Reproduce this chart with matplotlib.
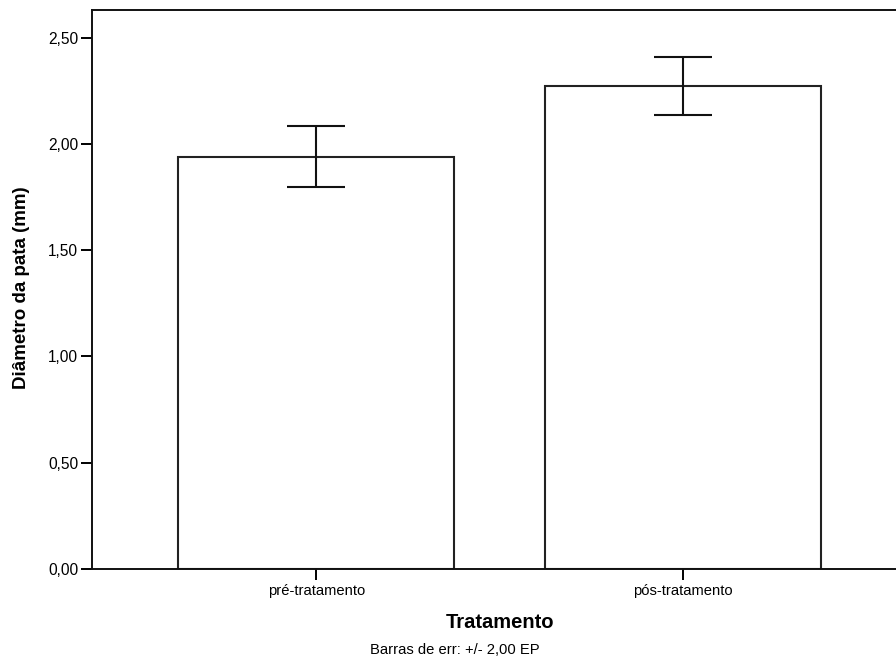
import matplotlib.pyplot as plt
import numpy as np

plt.rcParams['font.family'] = ['Liberation Sans', 'DejaVu Sans']

categories = ['pré-tratamento', 'pós-tratamento']
means = [1.94, 2.272]
errors = [0.143, 0.137]
yticks = [0.0, 0.5, 1.0, 1.5, 2.0, 2.5]
ytick_labels = ['0,00', '0,50', '1,00', '1,50', '2,00', '2,50']

fig = plt.figure(figsize=(8.96, 6.61), dpi=100)
ax = fig.add_axes([92 / 896, 92 / 661, 815 / 896, 559 / 661])

x = np.arange(len(categories))
ax.bar(x, means, width=0.754, color='white', edgecolor='#222222', linewidth=1.5)
ax.errorbar(x, means, yerr=errors, fmt='none', ecolor='#111111',
            elinewidth=1.5, capsize=21, capthick=1.5)

ax.set_xlim(-0.613, 1.613)
ax.set_ylim(0, 2.63)
ax.set_xticks(x)
ax.set_xticklabels(categories, fontsize=10.6)
ax.set_yticks(yticks)
ax.set_yticklabels(ytick_labels, fontsize=11.2)

for s in ['left', 'bottom', 'top']:
    ax.spines[s].set_linewidth(1.4)
    ax.spines[s].set_color('#111111')
ax.spines['right'].set_visible(False)
ax.tick_params(axis='y', length=8, width=1.4, pad=2)
ax.tick_params(axis='x', length=8, width=1.4, pad=3)

ax.set_xlabel('Tratamento', fontsize=14.5, fontweight='bold')
ax.xaxis.set_label_coords(0.5, -(622 - 569) / 559, transform=ax.transAxes)
ax.xaxis.label.set_va('center')
ax.set_ylabel('Diâmetro da pata (mm)', fontsize=13.5, fontweight='bold')
ax.yaxis.set_label_coords(-(92 - 22) / 815, (569 - 288) / 559, transform=ax.transAxes)
ax.yaxis.label.set_va('center')
fig.text(455 / 896, 1 - 650 / 661, 'Barras de err: +/- 2,00 EP', fontsize=10.6,
         ha='center', va='center')

fig.savefig('out.png', dpi=100)
